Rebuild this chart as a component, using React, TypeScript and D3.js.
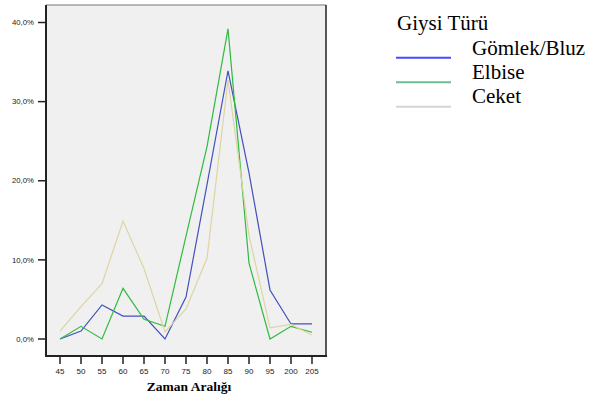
import React from "react";
import * as d3 from "d3";

const categories = ["45", "50", "55", "60", "65", "70", "75", "80", "85", "90", "95", "200", "205"];
const gomlek = [0, 1.0, 4.3, 2.9, 2.9, 0, 5.3, 19.5, 33.9, 21.0, 6.2, 1.9, 1.9];
const elbise = [0, 1.6, 0, 6.4, 2.5, 1.6, 13.0, 24.3, 39.2, 9.6, 0, 1.6, 0.85];
const ceket = [1.0, 4.1, 7.0, 14.9, 8.9, 0.9, 3.8, 10.2, 32.7, 13.1, 1.4, 1.85, 0.5];
const yTicks = [0, 10, 20, 30, 40];
const seriesNames = ["Gömlek/Bluz", "Elbise", "Ceket"];
const legendTitle = "Giysi Türü";
const xTitle = "Zaman Aralığı";

const lineColors = ["#4150bd", "#2fbb3e", "#dcd5a2"];
const legendColors = ["#4848ff", "#6cbd93", "#d4d4d4"];

const SERIF = "'Liberation Serif', 'Times New Roman', serif";
const SANS = "'Liberation Sans', Arial, sans-serif";

export default function App() {
  const left = 46, right = 326, top = 5, bottom = 356;
  const x = d3.scalePoint<string>().domain(categories).range([left, right]).padding(0.667);
  const y = d3.scaleLinear().domain([0, 40]).range([339, 22.5]);
  const series = [gomlek, elbise, ceket];
  const line = d3
    .line<number>()
    .x((_, i) => x(categories[i]) as number)
    .y((d) => y(d));
  const fmt = (v: number) => v.toFixed(1).replace(".", ",") + "%";

  return (
    <svg
      width={592}
      height={398}
      style={{ position: "absolute", left: 0, top: 0, background: "#fff" }}
    >
      <rect x={left} y={top} width={right - left} height={bottom - top} fill="#f0f0f0" stroke="none" />
      {series.map((s, i) => (
        <path key={i} d={line(s) || ""} fill="none" stroke={lineColors[i]} strokeWidth={1.2} />
      ))}
      <line x1={left} x2={right} y1={top} y2={top} stroke="#777" strokeWidth={1} />
      <line x1={right} x2={right} y1={top} y2={bottom} stroke="#222" strokeWidth={1.5} />
      <line x1={left} x2={left} y1={top} y2={bottom + 1} stroke="#222" strokeWidth={2} />
      <line x1={left - 1} x2={right + 1} y1={bottom} y2={bottom} stroke="#222" strokeWidth={2} />
      {yTicks.map((t) => (
        <g key={t}>
          <line x1={left - 8} x2={left} y1={y(t)} y2={y(t)} stroke="#222" strokeWidth={1.5} />
          <text x={34} y={y(t) + 2.7} textAnchor="end" fontFamily={SANS} fontSize={7.8} fill="#222">
            {fmt(t)}
          </text>
        </g>
      ))}
      {categories.map((c) => (
        <g key={c}>
          <line x1={x(c)} x2={x(c)} y1={bottom} y2={bottom + 8} stroke="#222" strokeWidth={1.5} />
          <text x={x(c)} y={374} textAnchor="middle" fontFamily={SANS} fontSize={8} fill="#222">
            {c}
          </text>
        </g>
      ))}
      <text x={189} y={391} textAnchor="middle" fontFamily={SERIF} fontWeight="bold" fontSize={13.5} fill="#000">
        {xTitle}
      </text>
      <text x={397} y={30} fontFamily={SERIF} fontSize={21} fill="#000">
        {legendTitle}
      </text>
      {seriesNames.map((n, i) => (
        <g key={n}>
          <line
            x1={396}
            x2={451}
            y1={57.7 + i * 24.5}
            y2={57.7 + i * 24.5}
            stroke={legendColors[i]}
            strokeWidth={2}
          />
          <text x={472} y={55 + i * 24} fontFamily={SERIF} fontSize={21} fill="#000">
            {n}
          </text>
        </g>
      ))}
    </svg>
  );
}
